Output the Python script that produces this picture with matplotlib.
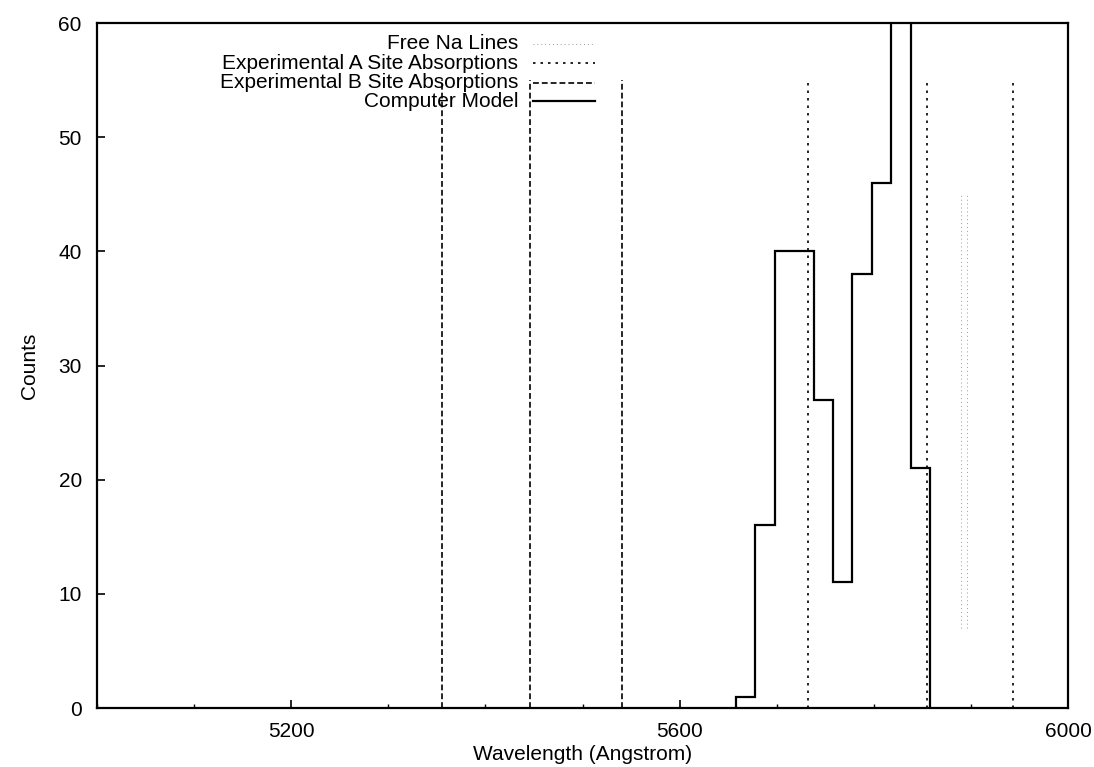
import numpy as np
import matplotlib.pyplot as plt
from matplotlib.ticker import MultipleLocator

plt.rcParams['font.family'] = ['Liberation Sans', 'DejaVu Sans']

# computer model histogram (bin edges in Angstrom, counts per bin)
model_edges = [5658, 5678, 5698, 5718, 5738, 5758, 5778, 5798, 5818, 5838, 5858]
model_counts = [1, 16, 40, 40, 27, 11, 38, 46, 75, 21]

# absorption lines (Angstrom) and their drawn height (counts)
a_site_lines = [5732, 5855, 5943]
b_site_lines = [5355, 5446, 5541]
line_top = 55

# free Na D lines, drawn between these counts
na_lines = [5890, 5896]
na_range = [7, 45]

labels = ['Free Na Lines', 'Experimental A Site Absorptions',
          'Experimental B Site Absorptions', 'Computer Model']

fig = plt.figure(figsize=(10.94, 7.67), dpi=100)
ax = fig.add_axes([0.0887, 0.0769, 0.8875, 0.8931])

na_style = dict(color='#9a9a9a', lw=0.7, ls=(0, (1, 3)))
a_style = dict(color='black', lw=1.2, ls=(0, (1.5, 3)))
b_style = dict(color='black', lw=1.2, ls=(0, (3.5, 1.8)))
m_style = dict(color='black', lw=1.6, ls='-')

ax.vlines(na_lines, na_range[0], na_range[1], **na_style)
ax.vlines(a_site_lines, 0, line_top, **a_style)
ax.vlines(b_site_lines, 0, line_top, **b_style)
ax.stairs(model_counts, model_edges, baseline=0, **m_style)

ax.set_xlim(5000, 6000)
ax.set_ylim(0, 60)
ax.xaxis.set_major_locator(MultipleLocator(400))
ax.xaxis.set_minor_locator(MultipleLocator(100))
ax.yaxis.set_major_locator(MultipleLocator(10))
ax.tick_params(which='both', direction='in', labelsize=15)
ax.tick_params(axis='x', which='major', length=6, width=1.2, pad=10)
ax.tick_params(axis='x', which='minor', length=3, width=1.0)
ax.tick_params(axis='y', which='major', length=6, width=1.2, pad=11)
for s in ax.spines.values():
    s.set_linewidth(1.6)

ax.set_xlabel('Wavelength (Angstrom)', fontsize=15, labelpad=3)
ax.set_ylabel('Counts', fontsize=15, labelpad=14)

# key drawn gnuplot style: text right aligned, sample to the right
key_y = [0.970, 0.941, 0.913, 0.886]
styles = [na_style, a_style, b_style, m_style]
for lab, yy, st in zip(labels, key_y, styles):
    ax.text(0.434, yy, lab, transform=ax.transAxes, ha='right', va='center',
            fontsize=15)
    ax.plot([0.449, 0.513], [yy, yy], transform=ax.transAxes, clip_on=False, **st)

fig.savefig('out.png', dpi=100)
